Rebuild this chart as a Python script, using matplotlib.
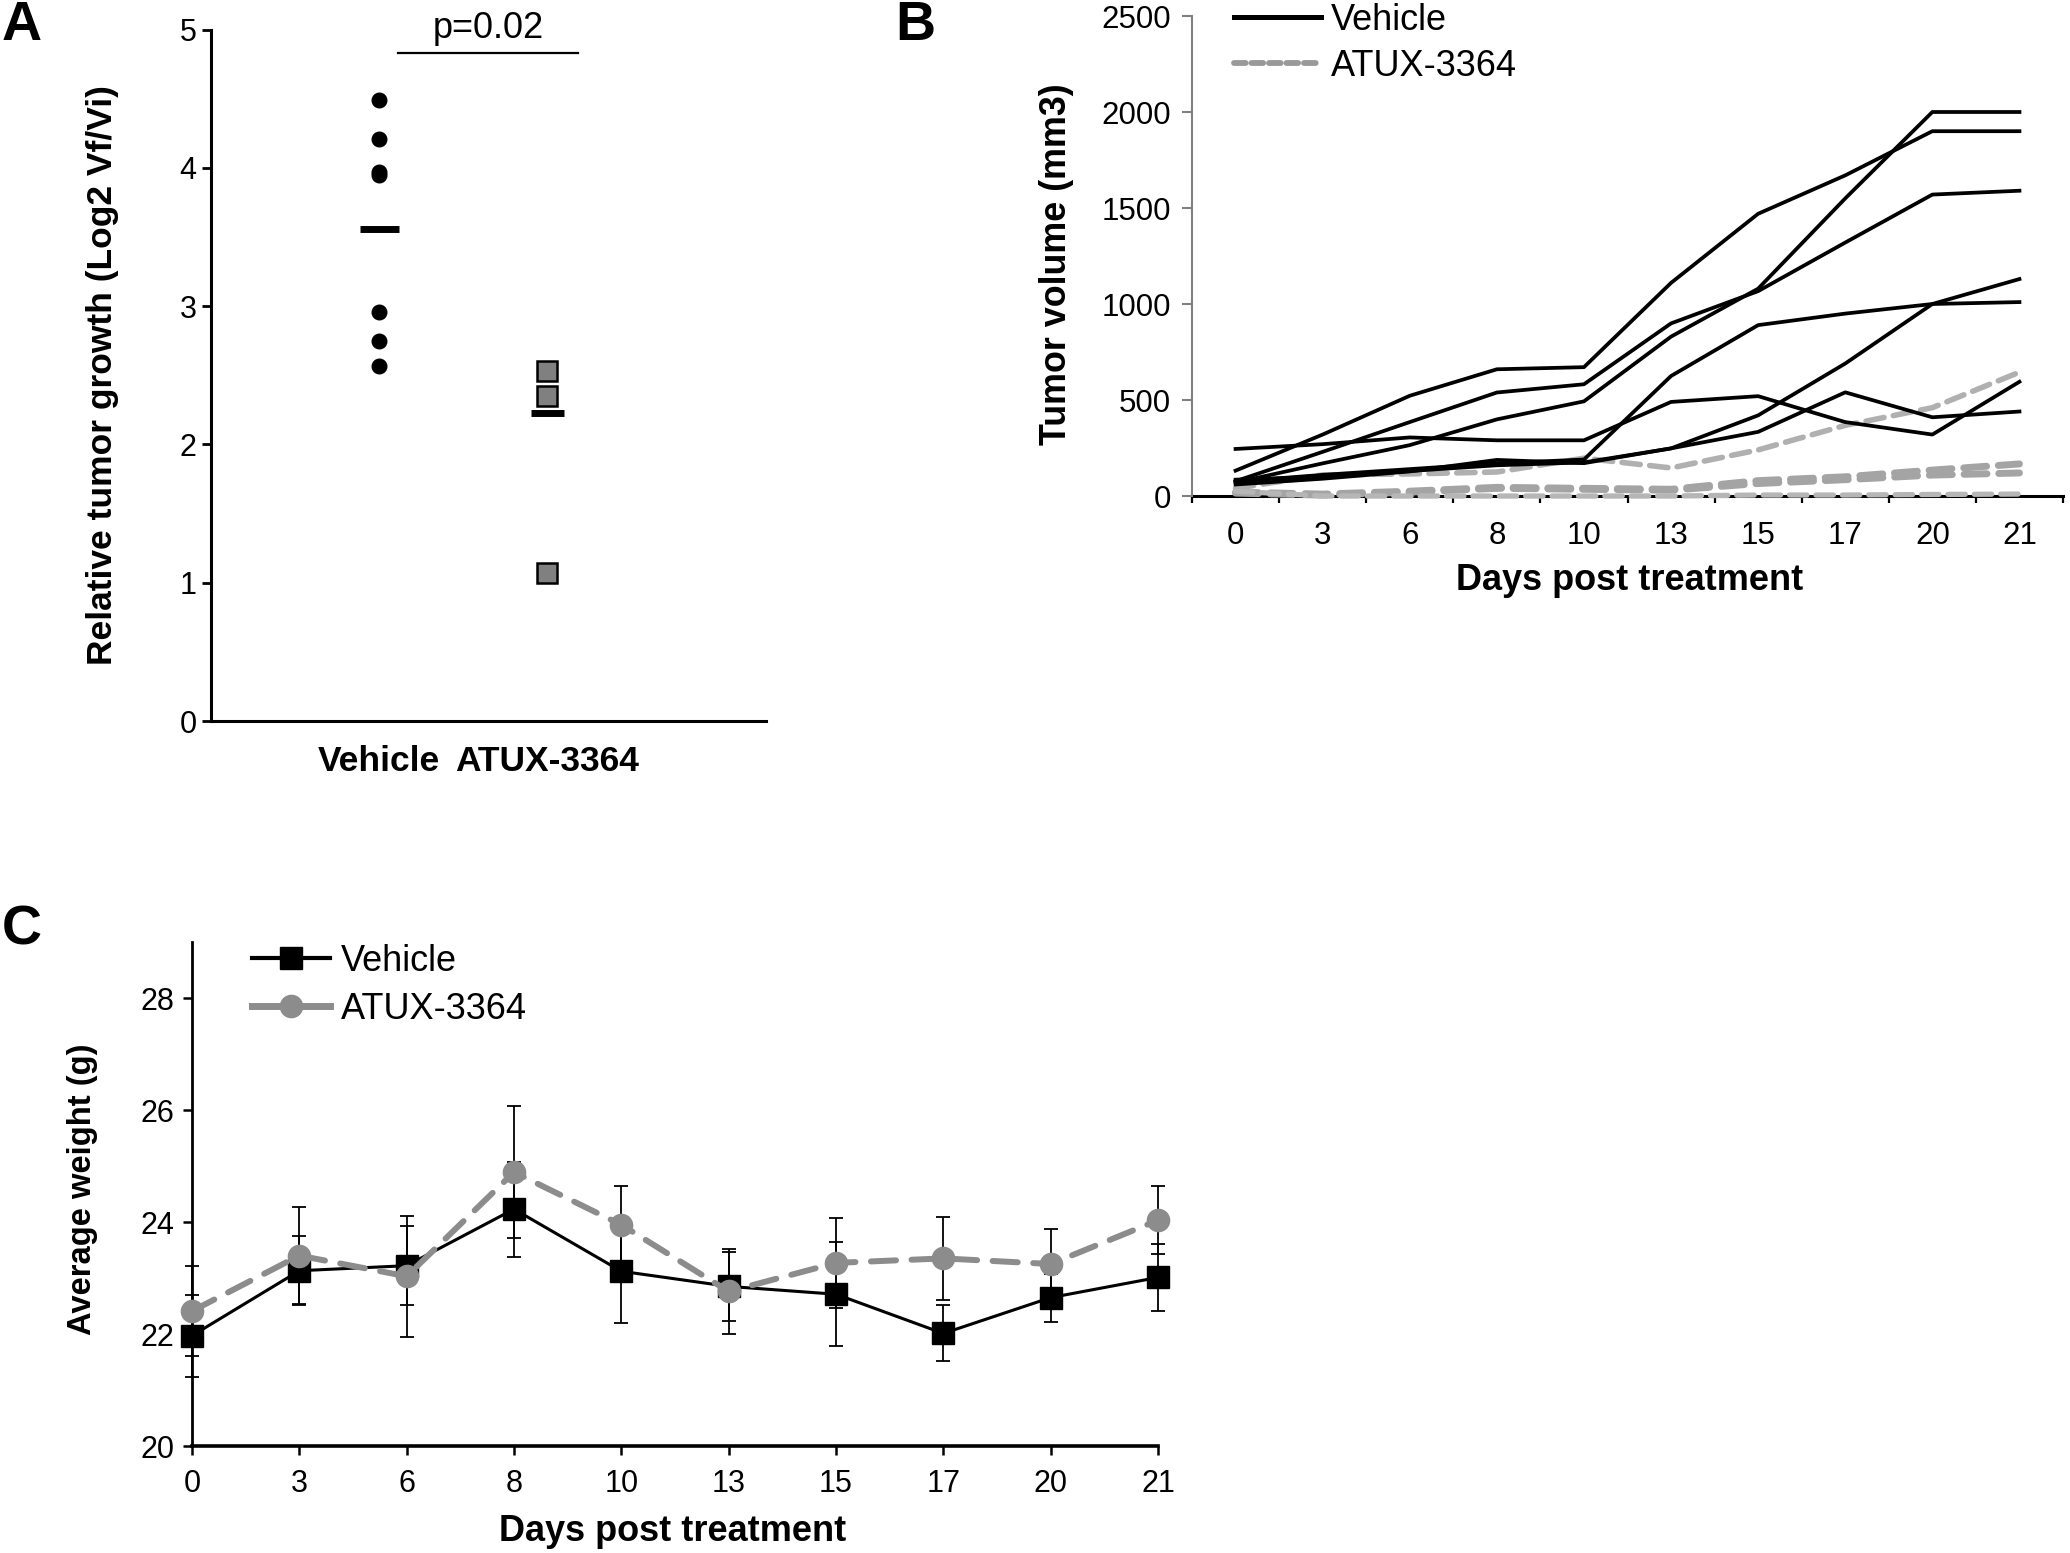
import matplotlib
matplotlib.use('Agg')
import matplotlib.pyplot as plt
from matplotlib.lines import Line2D

plt.rcParams['font.family'] = ['Liberation Sans', 'DejaVu Sans']
plt.rcParams['lines.dash_capstyle'] = 'round'

# ---------------- Panel A data ----------------
groups_a = ['Vehicle', 'ATUX-3364']
vehicle_growth = [4.49, 4.21, 3.97, 3.95, 2.96, 2.75, 2.57]
atux_growth = [2.53, 2.35, 1.07]
group_means = [3.56, 2.23]
p_label = 'p=0.02'

# ---------------- Panel B data ----------------
days = ['0', '3', '6', '8', '10', '13', '15', '17', '20', '21']
veh_vol_1 = [245, 270, 305, 290, 290, 490, 520, 385, 320, 595]
veh_vol_2 = [132, 320, 522, 660, 671, 1110, 1470, 1670, 1900, 1900]
veh_vol_3 = [77, 230, 385, 539, 582, 899, 1067, 1320, 1570, 1590]
veh_vol_4 = [70, 170, 265, 399, 493, 830, 1080, 1550, 2000, 2000]
veh_vol_5 = [60, 90, 128, 188, 171, 248, 420, 690, 1000, 1130]
veh_vol_6 = [85, 100, 130, 160, 175, 248, 334, 540, 410, 440]
veh_vol_7 = [75, 110, 140, 170, 190, 625, 890, 950, 1000, 1010]
atux_vol_1 = [40, 110, 115, 125, 197, 146, 240, 368, 460, 645]
atux_vol_2 = [20, 10, 25, 45, 40, 35, 80, 100, 135, 167]
atux_vol_3 = [15, 5, 20, 40, 35, 30, 65, 85, 109, 120]
atux_vol_4 = [25, 0, 0, 0, 0, 0, 5, 5, 8, 10]

# ---------------- Panel C data ----------------
veh_weight = [21.97, 23.13, 23.22, 24.23, 23.12, 22.85, 22.71, 22.01, 22.65, 23.01]
veh_weight_err = [0.73, 0.62, 0.70, 0.85, 0.93, 0.62, 0.93, 0.50, 0.43, 0.60]
atux_weight = [22.41, 23.40, 23.03, 24.89, 23.95, 22.76, 23.27, 23.35, 23.25, 24.03]
atux_weight_err = [0.81, 0.86, 1.08, 1.18, 0.70, 0.76, 0.80, 0.74, 0.62, 0.61]

W, H = 2070, 1553
fig = plt.figure(figsize=(W / 100, H / 100), dpi=100)


def ax_px(l, t, r, b):
    return fig.add_axes([l / W, 1 - b / H, (r - l) / W, (b - t) / H])


# ======================= Panel A =======================
axA = ax_px(211, 29.6, 766, 721)
axA.set_xlim(0, 3.3)
axA.set_ylim(0, 5)
for s in ['top', 'right']:
    axA.spines[s].set_visible(False)
for s in ['left', 'bottom']:
    axA.spines[s].set_linewidth(2.2)
axA.plot([1] * len(vehicle_growth), vehicle_growth, 'o', ms=10.5, color='black',
         clip_on=False, zorder=3)
axA.plot([2] * len(atux_growth), atux_growth, 's', ms=14, mfc='#808080', mec='black',
         mew=1.8, clip_on=False, zorder=3)
half_w = [0.116, 0.1]
for i, m in enumerate(group_means):
    axA.hlines(m, i + 1 - half_w[i], i + 1 + half_w[i], lw=5, color='black', zorder=4)
axA.plot([1.11, 2.18], [4.83, 4.83], color='black', lw=1.6, clip_on=False)
axA.text(1.65, 4.94, p_label, ha='center', va='baseline', fontsize=26, clip_on=False)
axA.set_yticks(range(0, 6))
axA.tick_params(axis='y', direction='out', length=6.5, width=2, labelsize=22, pad=4)
axA.set_xticks([1, 2])
axA.set_xticklabels(groups_a, fontsize=25.5, fontweight='bold')
axA.tick_params(axis='x', length=0, pad=17)
axA.set_ylabel('Relative tumor growth (Log2 Vf/Vi)', fontsize=25.5, fontweight='bold')
axA.yaxis.set_label_coords(-0.195, 0.5)
axA.yaxis.label.set_va('center')

# ======================= Panel B =======================
axB = ax_px(1192, 16, 2063, 496)
xs = list(range(len(days)))
for v in [veh_vol_1, veh_vol_2, veh_vol_3, veh_vol_4, veh_vol_5, veh_vol_6, veh_vol_7]:
    axB.plot(xs, v, color='black', lw=2.7, zorder=3)
gray_specs = [(atux_vol_1, '#b0b0b0', 4.0), (atux_vol_2, '#a4a4a4', 5.0),
              (atux_vol_3, '#a4a4a4', 5.0), (atux_vol_4, '#b6b6b6', 3.8)]
for v, c, lw in gray_specs:
    axB.plot(xs, v, color=c, lw=lw, linestyle=(0, (3.3, 1.7)), zorder=2, clip_on=False)
axB.set_xlim(-0.5, 9.5)
axB.set_ylim(0, 2500)
for s in ['top', 'right']:
    axB.spines[s].set_visible(False)
axB.spines['left'].set_color('#808080')
axB.spines['left'].set_linewidth(1.5)
axB.spines['bottom'].set_linewidth(2.2)
axB.spines['bottom'].set_zorder(1)
axB.set_xticks(xs)
axB.set_xticklabels(days)
axB.set_xticks([x - 0.5 for x in range(len(days) + 1)], minor=True)
axB.tick_params(axis='x', which='major', length=0, labelsize=22.5, pad=18)
axB.tick_params(axis='x', which='minor', length=5, width=1.6, direction='out')
axB.set_yticks(range(0, 2501, 500))
axB.tick_params(axis='y', length=7, width=1.5, color='#808080', labelsize=22.5, pad=8)
axB.set_xlabel('Days post treatment', fontsize=26, fontweight='bold')
axB.xaxis.set_label_coords(0.502, -0.177)
axB.xaxis.label.set_va('center')
axB.set_ylabel('Tumor volume (mm3)', fontsize=25.8, fontweight='bold')
axB.yaxis.set_label_coords(-0.156, 0.483)
axB.yaxis.label.set_va('center')
hB = [Line2D([], [], color='black', lw=3.6),
      Line2D([], [], color='#999999', lw=4.2, linestyle=(0, (2.0, 1.0)))]
axB.legend(hB, ['Vehicle', 'ATUX-3364'], loc='upper left', bbox_to_anchor=(1234 / W, 1 - 3 / H),
           bbox_transform=fig.transFigure, frameon=False, fontsize=26, handlelength=2.4,
           handletextpad=0.28, labelspacing=0.3, borderpad=0, borderaxespad=0)

# ======================= Panel C =======================
axC = ax_px(192, 942, 1158, 1446)
xc = list(range(len(days)))
axC.errorbar(xc, veh_weight, yerr=veh_weight_err, fmt='-s', color='black', ms=16, lw=2.2,
             ecolor='black', elinewidth=1.3, capsize=5, capthick=1.3, clip_on=False, zorder=3)
axC.errorbar(xc, atux_weight, yerr=atux_weight_err, fmt='o', linestyle=(0, (4.2, 2.6)),
             color='#8c8c8c', ms=16, lw=4.3, ecolor='black', elinewidth=1.3, capsize=5,
             capthick=1.3, clip_on=False, zorder=4)
axC.set_xlim(0, 9)
axC.set_ylim(20, 29)
for s in ['top', 'right']:
    axC.spines[s].set_visible(False)
axC.spines['left'].set_linewidth(2.0)
axC.spines['bottom'].set_linewidth(2.6)
axC.set_xticks(xc)
axC.set_xticklabels(days)
axC.set_yticks(range(20, 29, 2))
axC.tick_params(axis='both', direction='out', length=6.5, width=1.8, labelsize=22)
axC.tick_params(axis='x', pad=10)
axC.tick_params(axis='y', pad=6)
axC.set_xlabel('Days post treatment', fontsize=26, fontweight='bold')
axC.xaxis.set_label_coords(0.498, -0.169)
axC.xaxis.label.set_va('center')
axC.set_ylabel('Average weight (g)', fontsize=23.6, fontweight='bold')
axC.yaxis.set_label_coords(-0.113, 0.51)
axC.yaxis.label.set_va('center')
hC = [Line2D([], [], color='black', lw=3, marker='s', ms=16),
      Line2D([], [], color='#8c8c8c', lw=5, marker='o', ms=16)]
axC.legend(hC, ['Vehicle', 'ATUX-3364'], loc='upper left', bbox_to_anchor=(252 / W, 1 - 944 / H),
           bbox_transform=fig.transFigure, frameon=False, fontsize=26, handlelength=2.17,
           handletextpad=0.28, labelspacing=0.35, borderpad=0, borderaxespad=0)

# Panel letters
for letter, (px, py) in {'A': (22, 26), 'B': (915, 26), 'C': (22, 931)}.items():
    fig.text(px / W, 1 - py / H, letter, fontsize=40, fontweight='bold', ha='center', va='center')

fig.savefig('out.png', dpi=100)
